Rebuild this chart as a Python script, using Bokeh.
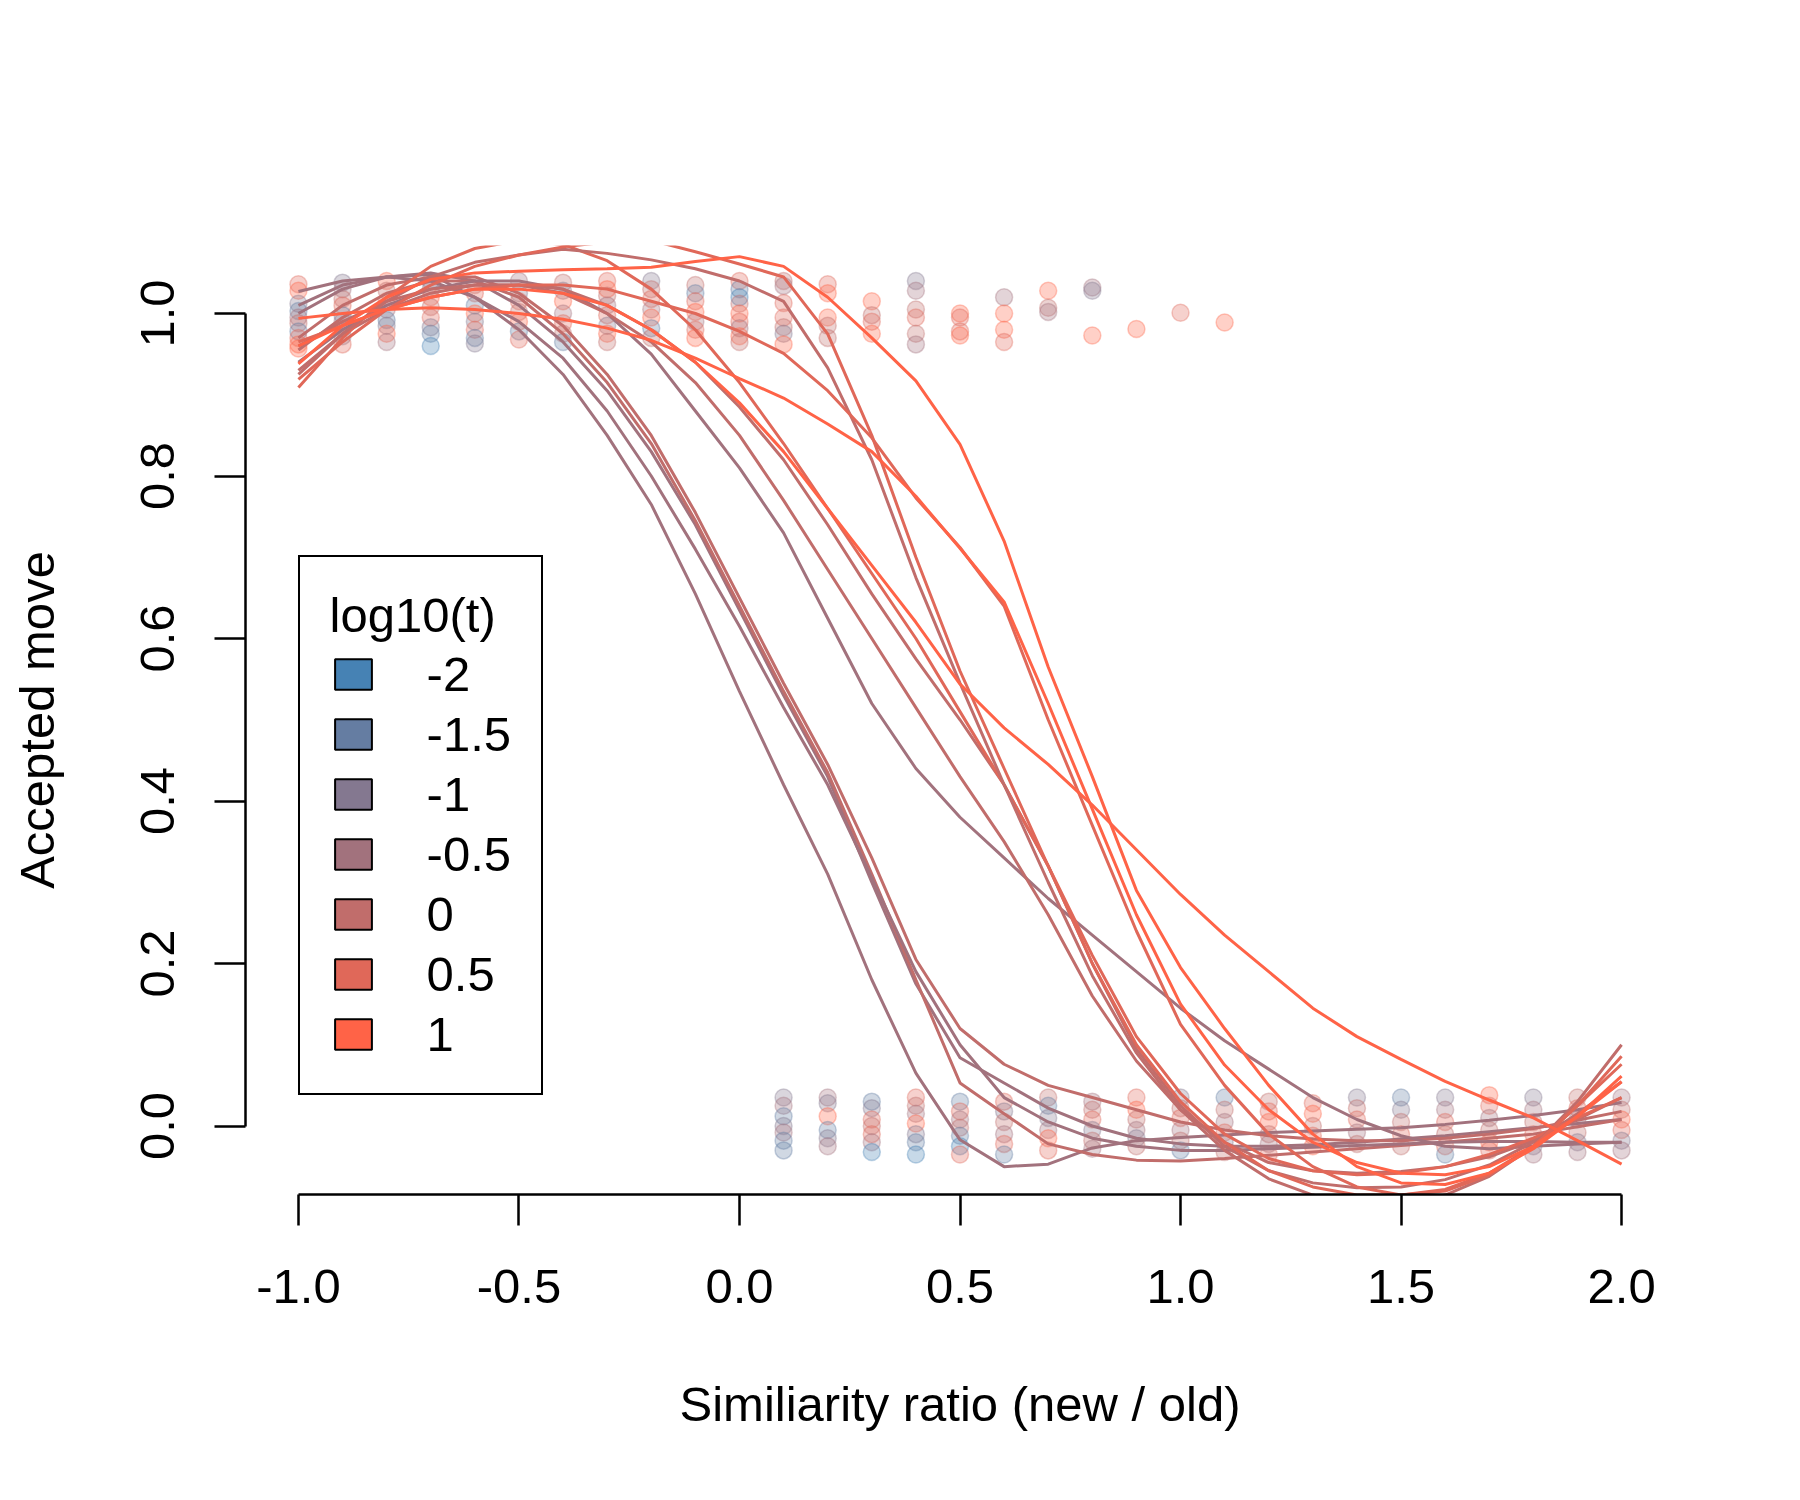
from bokeh.plotting import figure
from bokeh.models import ColumnDataSource, Legend, LegendItem, FixedTicker, NumeralTickFormatter
from bokeh.embed import file_html
from bokeh.resources import INLINE

# ---------------- data ----------------
temp_labels = ["-2", "-1.5", "-1", "-0.5", "0", "0.5", "1"]
palette = ["#4682B4", "#657DA2", "#847890", "#A2727D", "#C16D6B", "#E06859", "#FF6347"]

ratio = [-1.0, -0.9, -0.8, -0.7, -0.6, -0.5, -0.4, -0.3, -0.2, -0.1, 0.0,
         0.1, 0.2, 0.3, 0.4, 0.5, 0.6, 0.7, 0.8, 0.9, 1.0,
         1.1, 1.2, 1.3, 1.4, 1.5, 1.6, 1.7, 1.8, 1.9, 2.0]

# fitted curves (one per run), temperature index into temp_labels
fit_L1 = [1.027, 1.040, 1.045, 1.048, 1.020, 0.980, 0.925, 0.850, 0.765, 0.655, 0.535,
          0.420, 0.310, 0.180, 0.065, -0.017, -0.050, -0.047, -0.027, -0.018, -0.014,
          -0.011, -0.008, -0.006, -0.004, -0.002, 0.002, 0.007, 0.013, 0.020, 0.029]
fit_P2 = [1.000, 1.030, 1.045, 1.050, 1.040, 1.010, 0.965, 0.905, 0.830, 0.740, 0.635,
          0.530, 0.430, 0.300, 0.175, 0.084, 0.053, 0.022, 0.000, -0.015, -0.022,
          -0.025, -0.025, -0.023, -0.020, -0.016, -0.012, -0.007, -0.002, 0.003, 0.008]
fit_P3 = [0.970, 1.010, 1.035, 1.045, 1.045, 1.025, 0.985, 0.925, 0.850, 0.755, 0.650,
          0.545, 0.445, 0.330, 0.205, 0.120, 0.076, 0.050, 0.035, 0.020, 0.005,
          -0.005, -0.012, -0.016, -0.018, -0.018, -0.015, -0.010, -0.003, 0.007, 0.018]
fit_P4 = [0.955, 0.995, 1.025, 1.040, 1.040, 1.020, 0.975, 0.915, 0.840, 0.745, 0.640,
          0.535, 0.435, 0.310, 0.180, 0.053, 0.015, -0.022, -0.035, -0.042, -0.043,
          -0.040, -0.036, -0.032, -0.028, -0.024, -0.020, -0.015, -0.010, -0.001, 0.008]
fit_P5 = [1.010, 1.035, 1.045, 1.040, 1.020, 0.990, 0.945, 0.880, 0.800, 0.710, 0.615,
          0.515, 0.420, 0.305, 0.190, 0.100, 0.035, 0.005, -0.015, -0.025, -0.030,
          -0.030, -0.028, -0.026, -0.024, -0.022, -0.020, -0.019, -0.019, -0.020, -0.020]
fit_S1 = [0.940, 0.980, 1.010, 1.030, 1.040, 1.040, 1.030, 1.000, 0.950, 0.880, 0.810,
          0.730, 0.625, 0.520, 0.440, 0.380, 0.330, 0.280, 0.235, 0.190, 0.145,
          0.105, 0.070, 0.035, 0.008, -0.012, -0.025, -0.028, -0.025, -0.022, -0.020]
fit_S2 = [0.930, 0.975, 1.005, 1.025, 1.035, 1.035, 1.025, 1.000, 0.965, 0.915, 0.850,
          0.770, 0.685, 0.600, 0.515, 0.430, 0.350, 0.260, 0.160, 0.080, 0.020,
          -0.020, -0.045, -0.055, -0.058, -0.056, -0.050, -0.038, -0.018, 0.008, 0.035]
fit_S3 = [0.960, 0.990, 1.015, 1.030, 1.035, 1.035, 1.030, 1.010, 0.980, 0.940, 0.885,
          0.820, 0.740, 0.655, 0.575, 0.500, 0.420, 0.320, 0.200, 0.095, 0.025,
          -0.025, -0.055, -0.070, -0.076, -0.075, -0.066, -0.048, -0.020, 0.015, 0.0545]
fit_S4 = [0.909, 0.970, 1.020, 1.058, 1.080, 1.090, 1.085, 1.065, 1.030, 0.980, 0.915,
          0.840, 0.760, 0.680, 0.600, 0.510, 0.420, 0.320, 0.210, 0.110, 0.040,
          -0.010, -0.040, -0.055, -0.060, -0.058, -0.050, -0.035, -0.015, 0.010, 0.035]
fit_C1 = [0.925, 0.975, 1.015, 1.045, 1.063, 1.072, 1.079, 1.074, 1.066, 1.055, 1.040,
          1.015, 0.933, 0.820, 0.675, 0.545, 0.420, 0.300, 0.185, 0.090, 0.020,
          -0.030, -0.065, -0.085, -0.095, -0.095, -0.085, -0.062, -0.025, 0.030, 0.100]
fit_C2 = [0.919, 0.965, 1.005, 1.035, 1.058, 1.072, 1.082, 1.088, 1.090, 1.076, 1.061,
          1.045, 0.975, 0.850, 0.700, 0.560, 0.440, 0.320, 0.200, 0.100, 0.030,
          -0.020, -0.055, -0.075, -0.085, -0.085, -0.078, -0.058, -0.025, 0.025, 0.076]
fit_Df = [0.965, 0.985, 1.005, 1.020, 1.030, 1.035, 1.035, 1.030, 1.015, 1.000, 0.978,
          0.951, 0.905, 0.847, 0.773, 0.712, 0.640, 0.500, 0.370, 0.240, 0.125,
          0.050, -0.010, -0.050, -0.075, -0.085, -0.080, -0.060, -0.025, 0.025, 0.086]
fit_Tf = [0.994, 1.000, 1.005, 1.007, 1.005, 1.000, 0.993, 0.982, 0.967, 0.945, 0.920,
          0.896, 0.864, 0.830, 0.775, 0.711, 0.645, 0.520, 0.390, 0.260, 0.150,
          0.075, 0.020, -0.020, -0.045, -0.058, -0.060, -0.050, -0.025, 0.012, 0.0545]
fit_Tsh = [0.960, 0.985, 1.005, 1.020, 1.030, 1.030, 1.025, 1.010, 0.980, 0.940, 0.890,
           0.830, 0.760, 0.690, 0.620, 0.544, 0.490, 0.445, 0.395, 0.340, 0.285,
           0.235, 0.190, 0.145, 0.110, 0.082, 0.055, 0.032, 0.010, -0.018, -0.047]
fit_T1 = [0.938, 0.985, 1.020, 1.042, 1.050, 1.052, 1.054, 1.055, 1.057, 1.064, 1.070,
          1.058, 1.020, 0.970, 0.917, 0.839, 0.720, 0.565, 0.430, 0.290, 0.195,
          0.120, 0.050, -0.010, -0.050, -0.070, -0.072, -0.058, -0.028, 0.012, 0.0615]

fit_curves = [fit_L1, fit_P2, fit_P3, fit_P4, fit_P5, fit_S1, fit_S2, fit_S3,
              fit_S4, fit_C1, fit_C2, fit_Df, fit_Tf, fit_Tsh, fit_T1]
fit_temp = [3, 3, 4, 4, 3, 3, 4, 4, 5, 4, 5, 5, 6, 6, 6]

# jittered observations: accepted moves (near 1)
acc_x = [-1.0, -0.9, -0.8, -0.7, -0.6, -0.5, -0.4, -0.3, -0.2, -0.1, 0.0,
         0.1, 0.2, 0.3, 0.4, 0.5, 0.6, 0.7, 0.8, 0.9, 1.0, 1.1]
acc_y = [
    [1.036, 1.028, 1.012, 1.003, 0.995, 0.988, 0.978, 0.970, 0.962, 0.957],
    [1.038, 1.030, 1.018, 1.010, 0.998, 0.990, 0.982, 0.972, 0.962],
    [1.040, 1.028, 1.015, 1.005, 0.992, 0.985, 0.975, 0.965],
    [1.040, 1.030, 1.020, 1.008, 0.995, 0.983, 0.975, 0.960],
    [1.035, 1.025, 1.010, 1.000, 0.990, 0.980, 0.970, 0.963],
    [1.040, 1.025, 1.015, 1.002, 0.990, 0.978, 0.968],
    [1.038, 1.028, 1.015, 1.000, 0.988, 0.975, 0.965],
    [1.040, 1.030, 1.022, 1.010, 0.998, 0.985, 0.975, 0.965],
    [1.040, 1.030, 1.018, 1.005, 0.995, 0.982, 0.970],
    [1.035, 1.025, 1.015, 1.002, 0.990, 0.980, 0.970],
    [1.040, 1.030, 1.020, 1.012, 1.000, 0.990, 0.982, 0.972, 0.965],
    [1.040, 1.034, 1.013, 0.995, 0.983, 0.975, 0.962],
    [1.036, 1.025, 0.995, 0.985, 0.970],
    [1.015, 0.998, 0.990, 0.975],
    [1.040, 1.028, 1.005, 0.995, 0.975, 0.962],
    [1.000, 0.995, 0.978, 0.973],
    [1.020, 1.000, 0.980, 0.965],
    [1.028, 1.007, 1.002],
    [1.032, 1.028, 0.973],
    [0.981],
    [1.001],
    [0.989],
]
acc_t = [
    [5, 6, 2, 1, 3, 4, 1, 5, 6, 6],
    [2, 3, 4, 5, 1, 3, 4, 2, 5],
    [6, 4, 5, 3, 1, 2, 6, 3],
    [3, 2, 6, 4, 5, 2, 1, 0],
    [4, 5, 1, 6, 2, 5, 1, 2],
    [3, 2, 5, 4, 6, 1, 5],
    [4, 2, 6, 3, 5, 4, 1],
    [5, 6, 4, 3, 5, 2, 6, 4],
    [2, 4, 5, 3, 6, 1, 4],
    [4, 1, 5, 6, 3, 5, 6],
    [5, 1, 0, 4, 6, 5, 3, 6, 4],
    [4, 3, 5, 5, 4, 2, 6],
    [5, 6, 6, 4, 4],
    [6, 4, 5, 6],
    [2, 3, 4, 5, 4, 3],
    [6, 5, 5, 6],
    [3, 6, 6, 5],
    [6, 4, 3],
    [3, 2, 6],
    [6],
    [5],
    [6],
]

# rejected moves (near 0)
rej_x = [0.1, 0.2, 0.3, 0.4, 0.5, 0.6, 0.7, 0.8, 0.9, 1.0,
         1.1, 1.2, 1.3, 1.4, 1.5, 1.6, 1.7, 1.8, 1.9, 2.0]
rej_y = [
    [0.035, 0.025, 0.012, 0.000, -0.008, -0.018, -0.030],
    [0.035, 0.028, 0.012, -0.005, -0.015, -0.025],
    [0.030, 0.022, 0.008, 0.000, -0.010, -0.020, -0.032],
    [0.035, 0.025, 0.015, 0.003, -0.010, -0.020, -0.035],
    [0.030, 0.018, 0.008, -0.002, -0.012, -0.025, -0.035],
    [0.030, 0.018, 0.005, -0.010, -0.022, -0.035],
    [0.035, 0.025, 0.010, -0.005, -0.015, -0.030],
    [0.030, 0.020, 0.008, -0.005, -0.018, -0.028],
    [0.035, 0.020, 0.008, -0.005, -0.015, -0.025],
    [0.035, 0.022, 0.010, -0.005, -0.018, -0.030],
    [0.035, 0.020, 0.005, -0.008, -0.020, -0.032],
    [0.030, 0.018, 0.005, -0.010, -0.022, -0.035],
    [0.028, 0.015, 0.000, -0.012, -0.025],
    [0.035, 0.022, 0.008, -0.008, -0.022],
    [0.035, 0.020, 0.005, -0.010, -0.025],
    [0.035, 0.020, 0.005, -0.010, -0.025, -0.035],
    [0.038, 0.025, 0.010, -0.005, -0.020, -0.030],
    [0.035, 0.020, 0.005, -0.010, -0.025, -0.035],
    [0.035, 0.022, 0.008, -0.008, -0.020, -0.032],
    [0.035, 0.020, 0.008, -0.005, -0.018, -0.030],
]
rej_t = [
    [2, 3, 1, 2, 3, 1, 1],
    [3, 2, 6, 1, 2, 3],
    [1, 2, 5, 4, 5, 3, 0],
    [5, 4, 3, 6, 2, 1, 0],
    [1, 5, 3, 4, 1, 0, 5],
    [5, 2, 4, 3, 5, 1],
    [4, 1, 2, 3, 6, 5],
    [3, 4, 5, 2, 4, 3],
    [5, 6, 4, 3, 2, 4],
    [2, 4, 5, 3, 4, 1],
    [1, 4, 3, 5, 2, 4],
    [4, 5, 6, 4, 3, 5],
    [5, 6, 4, 5, 6],
    [2, 4, 5, 3, 4],
    [1, 2, 4, 5, 4],
    [2, 3, 5, 4, 5, 1],
    [6, 5, 3, 4, 6, 5],
    [2, 3, 4, 5, 2, 3],
    [4, 5, 3, 4, 2, 3],
    [3, 4, 6, 5, 2, 3],
]

x_ticks = [-1.0, -0.5, 0.0, 0.5, 1.0, 1.5, 2.0]
y_ticks = [0.0, 0.2, 0.4, 0.6, 0.8, 1.0]

# ---------------- build point table ----------------
px, py, pc = [], [], []
for cols_x, cols_y, cols_t in ((acc_x, acc_y, acc_t), (rej_x, rej_y, rej_t)):
    for xv, ys, ts in zip(cols_x, cols_y, cols_t):
        for yv, tv in zip(ys, ts):
            px.append(xv)
            py.append(yv)
            pc.append(palette[tv])
pts = ColumnDataSource(dict(x=px, y=py, c=pc))

FONT = "Liberation Sans"
FS = "49px"

p = figure(width=1800, height=1500, x_range=(-1.12, 2.12), y_range=(-0.0843, 1.0837),
           output_backend="svg", toolbar_location=None,
           min_border_left=245, min_border_right=126, min_border_top=245, min_border_bottom=306,
           x_axis_label="Similiarity ratio (new / old)", y_axis_label="Accepted move")
p.background_fill_color = "white"
p.border_fill_color = "white"
p.outline_line_color = None
p.xgrid.visible = False
p.ygrid.visible = False

p.scatter("x", "y", source=pts, size=17, fill_color="c", fill_alpha=0.3,
          line_color="c", line_alpha=0.35, line_width=1.5)

for ys, ti in zip(fit_curves, fit_temp):
    p.line(ratio, ys, line_color=palette[ti], line_width=3)

for ax, ticks in ((p.xaxis[0], x_ticks), (p.yaxis[0], y_ticks)):
    ax.ticker = FixedTicker(ticks=ticks)
    ax.formatter = NumeralTickFormatter(format="0.0")
    ax.axis_line_width = 2.5
    ax.axis_line_color = "black"
    ax.major_tick_line_width = 2.5
    ax.major_tick_line_color = "black"
    ax.major_tick_out = 31
    ax.major_tick_in = 0
    ax.minor_tick_out = 0
    ax.minor_tick_in = 0
    ax.major_label_text_font = FONT
    ax.major_label_text_font_size = FS
    ax.major_label_text_color = "black"
    ax.axis_label_text_font = FONT
    ax.axis_label_text_font_size = FS
    ax.axis_label_text_font_style = "normal"
    ax.axis_label_text_color = "black"

p.xaxis.bounds = (-1, 2)
p.yaxis.bounds = (0, 1)
p.xaxis.major_label_standoff = 44
p.xaxis.axis_label_standoff = 71
p.yaxis.major_label_orientation = "vertical"
p.yaxis.major_label_standoff = 40
p.yaxis.axis_label_standoff = 75

nan = float("nan")
items = []
for lab, col in zip(temp_labels, palette):
    r = p.quad(left=[nan], right=[nan], top=[nan], bottom=[nan], fill_color=col,
               line_color="black", line_width=2)
    items.append(LegendItem(label=lab, renderers=[r]))

legend = Legend(items=items, title="log10(t)", location=(52.6, 99.5),
                margin=0, padding=30, spacing=2,
                glyph_width=46, glyph_height=38, label_standoff=51, label_height=58,
                label_text_font=FONT, label_text_font_size=FS, label_text_color="black",
                title_text_font=FONT, title_text_font_size=FS, title_text_color="black",
                title_text_font_style="normal", title_text_baseline="middle",
                title_text_line_height=0.6,
                title_standoff=2,
                border_line_color="black", border_line_width=2.5, border_line_alpha=1,
                background_fill_color="white", background_fill_alpha=1)
p.add_layout(legend)

open("out.html", "w").write(file_html(p, INLINE))
